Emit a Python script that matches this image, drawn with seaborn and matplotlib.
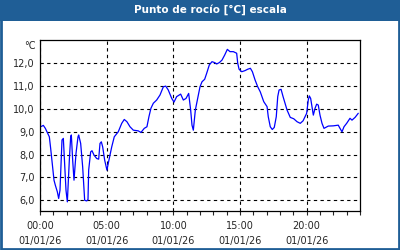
import matplotlib
matplotlib.use("Agg")
import matplotlib.pyplot as plt
import matplotlib.patches as mpatches
from matplotlib.ticker import MultipleLocator, FixedLocator, FuncFormatter
import seaborn as sns
import pandas as pd

hours = [0.05, 0.25, 0.40, 0.55, 0.70, 0.80, 0.95, 1.05, 1.15, 1.30, 1.40, 1.50, 1.65, 1.75,
         1.95, 2.05, 2.20, 2.30, 2.35, 2.45, 2.55, 2.70, 2.85, 2.90, 3.05, 3.20, 3.35, 3.50,
         3.60, 3.65, 3.80, 3.90, 4.05, 4.25, 4.40, 4.50, 4.60, 4.70, 4.85, 5.02, 5.17, 5.38,
         5.57, 5.87, 6.13, 6.32, 6.52, 6.75, 7.00, 7.37, 7.57, 7.82, 8.02, 8.17, 8.32, 8.50,
         8.75, 9.00, 9.25, 9.43, 9.62, 9.88, 10.05, 10.25, 10.55, 10.75, 10.95, 11.15, 11.30,
         11.40, 11.50, 11.65, 11.80, 12.00, 12.15, 12.35, 12.50, 12.70, 12.90, 13.10, 13.25,
         13.45, 13.65, 13.85, 14.05, 14.25, 14.50, 14.75, 14.83, 14.93, 15.13, 15.38, 15.58,
         15.78, 15.93, 16.13, 16.33, 16.52, 16.78, 17.03, 17.12, 17.27, 17.42, 17.57, 17.72,
         17.83, 17.93, 18.08, 18.23, 18.38, 18.53, 18.77, 19.03, 19.28, 19.52, 19.73, 20.00,
         20.12, 20.20, 20.30, 20.40, 20.50, 20.63, 20.75, 20.87, 21.00, 21.15, 21.30, 21.62,
         22.00, 22.37, 22.50, 22.65, 22.80, 23.00, 23.25, 23.40, 23.63, 23.87]
dew_point = [9.22, 9.28, 9.15, 8.96, 8.78, 8.27, 7.46, 6.88, 6.66, 6.37, 6.08, 6.44, 8.64, 8.71,
             6.44, 5.93, 7.76, 8.78, 8.86, 7.76, 6.88, 8.05, 8.78, 8.86, 8.49, 7.46, 6.00, 5.97,
             6.03, 7.32, 8.12, 8.17, 7.98, 7.83, 7.80, 8.49, 8.56, 8.34, 7.76, 7.32, 7.76, 8.34,
             8.78, 9.00, 9.37, 9.54, 9.44, 9.22, 9.07, 9.04, 8.97, 9.15, 9.22, 9.66, 10.03, 10.25,
             10.39, 10.61, 10.97, 11.00, 10.83, 10.46, 10.30, 10.54, 10.65, 10.39, 10.46, 10.68, 9.95,
             9.29, 9.07, 9.95, 10.39, 10.97, 11.19, 11.30, 11.56, 11.93, 12.07, 12.03, 11.97,
             12.03, 12.14, 12.36, 12.61, 12.51, 12.51, 12.44, 12.00, 11.74, 11.63, 11.68, 11.74,
             11.78, 11.63, 11.27, 10.97, 10.75, 10.32, 10.10, 9.66, 9.22, 9.10, 9.19, 9.66,
             10.54, 10.83, 10.86, 10.54, 10.25, 9.95, 9.63, 9.57, 9.44, 9.37, 9.48, 9.81,
             10.39, 10.57, 10.46, 10.10, 9.73, 10.03, 10.21, 10.17, 9.73, 9.37, 9.15, 9.25,
             9.26, 9.29, 9.15, 9.00, 9.22, 9.37, 9.59, 9.51, 9.63, 9.81]

x_ticks = [0, 5, 10, 15, 20]
x_tick_labels = ["00:00\n01/01/26", "05:00\n01/01/26", "10:00\n01/01/26",
                 "15:00\n01/01/26", "20:00\n01/01/26"]
y_ticks = [6.0, 7.0, 8.0, 9.0, 10.0, 11.0, 12.0]
title = "Punto de rocío [°C] escala"
unit = "°C"

df = pd.DataFrame({"hour": hours, "dew": dew_point})

sns.set_style("white")
plt.rcParams["font.family"] = ["DejaVu Sans"]

fig = plt.figure(figsize=(4, 2.5), dpi=100)
fig.patch.set_facecolor("white")
ax = fig.add_axes([0.1, 0.156, 0.8, 0.684])

sns.lineplot(data=df, x="hour", y="dew", ax=ax, color="#0000ff", linewidth=0.9)

ax.set_xlim(0, 24)
ax.set_ylim(5.53, 13.02)
ax.xaxis.set_major_locator(FixedLocator(x_ticks))
ax.set_xticklabels(x_tick_labels, fontsize=7, linespacing=1.6)
ax.xaxis.set_minor_locator(MultipleLocator(1))
ax.yaxis.set_major_locator(FixedLocator(y_ticks))
ax.yaxis.set_major_formatter(FuncFormatter(lambda v, p: f"{v:.1f}".replace(".", ",")))
ax.tick_params(axis="y", labelsize=7, length=0, pad=4)
ax.tick_params(axis="x", which="major", length=3, width=0.8, pad=4, direction="out", bottom=True)
ax.tick_params(axis="x", which="minor", length=3, width=0.8, direction="out", bottom=True)
ax.set_xlabel("")
ax.set_ylabel("")
ax.grid(True, which="major", color="black", linestyle=(0, (3, 3)), linewidth=0.8)
for s in ax.spines.values():
    s.set_color("black")
    s.set_linewidth(0.9)

fig.text(0.09, 1 - 46 / 250, unit, fontsize=7, ha="right", va="center")

# header bar and frame
fig.add_artist(mpatches.Rectangle((0, 1 - 20.5 / 250), 1, 20.5 / 250, transform=fig.transFigure,
                                  facecolor="#1f5e96", edgecolor="none"))
fig.add_artist(mpatches.Rectangle((0.002, 0.005), 0.996, 0.99, transform=fig.transFigure,
                                  facecolor="none", edgecolor="#1f5e96", linewidth=2))
fig.text(0.525, 1 - 10 / 250, title, color="white", fontsize=7.5, fontweight="bold",
         ha="center", va="center")

fig.savefig("out.png", dpi=100)
